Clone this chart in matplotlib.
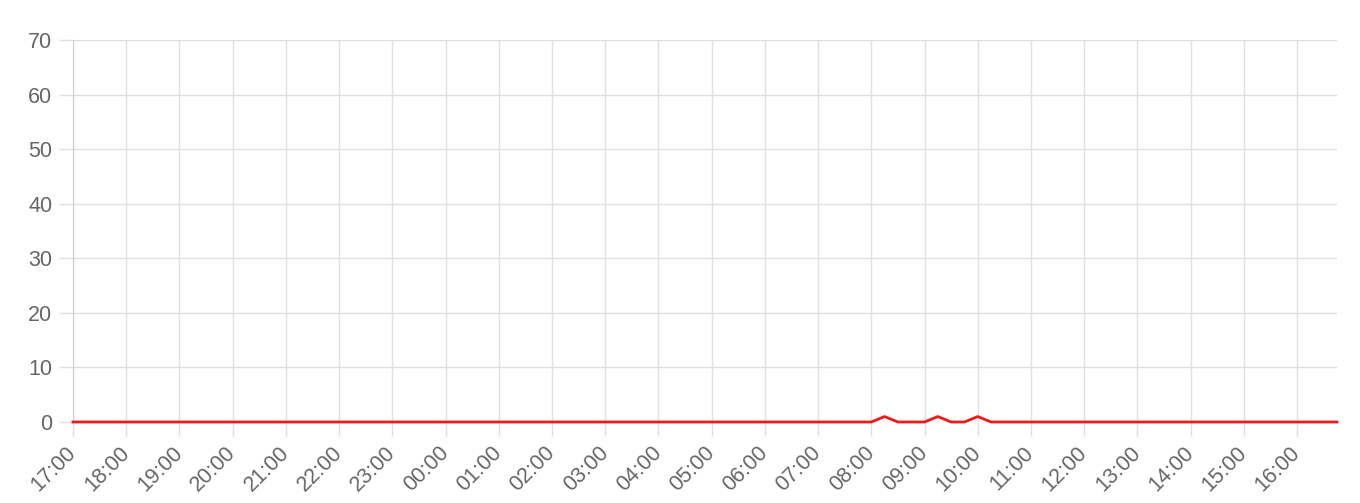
import matplotlib
matplotlib.use("Agg")
import matplotlib.pyplot as plt
import matplotlib.dates as mdates
import pandas as pd

# readings every 15 minutes, starting 17:00
start = "2024-01-01 17:00"
values = [
    0, 0, 0, 0,  0, 0, 0, 0,  0, 0, 0, 0,  0, 0, 0, 0,   # 17-20
    0, 0, 0, 0,  0, 0, 0, 0,  0, 0, 0, 0,  0, 0, 0, 0,   # 21-00
    0, 0, 0, 0,  0, 0, 0, 0,  0, 0, 0, 0,  0, 0, 0, 0,   # 01-04
    0, 0, 0, 0,  0, 0, 0, 0,  0, 0, 0, 0,  0, 1, 0, 0,   # 05-08
    0, 1, 0, 0,  1, 0, 0, 0,  0, 0, 0, 0,  0, 0, 0, 0,   # 09-12
    0, 0, 0, 0,  0, 0, 0, 0,  0, 0, 0, 0,  0, 0, 0, 0,   # 13-16
]
times = pd.date_range(start, periods=len(values), freq="15min")
y_ticks = [0, 10, 20, 30, 40, 50, 60, 70]

plt.rcParams['font.family'] = ['Liberation Sans', 'DejaVu Sans']

fig = plt.figure(figsize=(13.6, 5.03), dpi=100)
ax = fig.add_axes([73/1360, 81/503, (1337-73)/1360, (422-40)/503])

ax.plot(times, values, color='#f01818', linewidth=2.0,
        solid_joinstyle='round', clip_on=False, zorder=3)

ax.set_xlim(times[0], times[-1])
ax.set_ylim(0, 70)
ax.set_yticks(y_ticks)
ax.xaxis.set_major_locator(mdates.HourLocator())
ax.xaxis.set_major_formatter(mdates.DateFormatter('%H:%M'))

ax.grid(True, color='#e0e0e0', linewidth=1)
ax.set_axisbelow(True)
for side in ['top', 'right', 'bottom']:
    ax.spines[side].set_visible(False)
ax.spines['left'].set_color('#cccccc')
ax.tick_params(axis='both', colors='#e0e0e0', length=10, width=1,
               labelcolor='#666666', labelsize=15.5)
ax.tick_params(axis='y', pad=5)
ax.tick_params(axis='x', pad=10)
plt.setp(ax.get_xticklabels(), rotation=45, ha='right', va='center',
         rotation_mode='anchor')

fig.savefig('out.png', dpi=100)
